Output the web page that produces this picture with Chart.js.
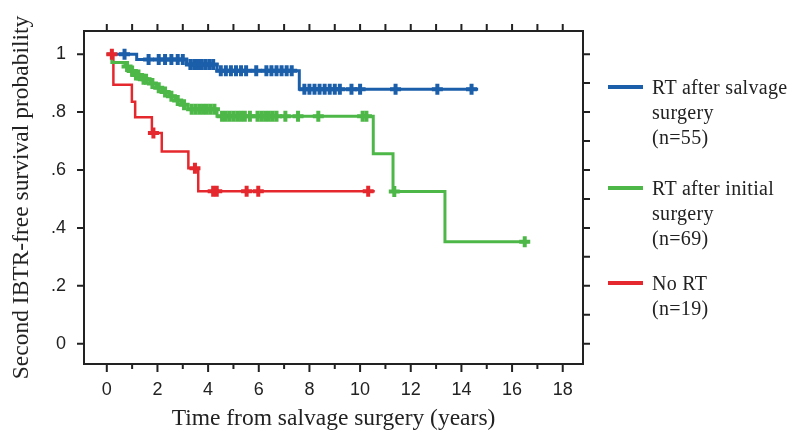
<!DOCTYPE html>
<html>
<head>
<meta charset="utf-8">
<script src="https://cdn.jsdelivr.net/npm/chart.js@4.4.1/dist/chart.umd.min.js"></script>
<style>
  html, body { margin: 0; padding: 0; background: #fff; }
  #wrap { position: relative; width: 792px; height: 434px; }
  .item { position: absolute; left: 608px; }
  .swatch { position: absolute; left: 0; top: -2px; width: 35px; height: 4px; }
  .label { position: absolute; left: 44px; top: -12.5px; font: 20px "Liberation Serif", "Times New Roman", serif;
           line-height: 25px; color: #222; white-space: nowrap; letter-spacing: 0.3px; }
</style>
</head>
<body>
<div id="wrap">
  <canvas id="km" width="792" height="434"></canvas>
</div>
<script>
// Kaplan-Meier step points: time (years) where survival drops to the given value
var salvageTimes = [0, 1.18, 3.15, 4.35, 7.6, 14.66];
var salvageSurv = [1, 0.982, 0.964, 0.943, 0.879, 0.879];
var salvageCensor = [0.7, 1.65, 2.05, 2.3, 2.55, 2.8, 3.0, 3.3, 3.45, 3.6, 3.75, 3.9, 4.05, 4.2,
  4.5, 4.7, 4.9, 5.1, 5.3, 5.5, 5.9, 6.3, 6.5, 6.7, 6.9, 7.1, 7.3, 7.8, 8.0, 8.2, 8.4, 8.6, 8.8,
  9.0, 9.2, 9.66, 10.0, 11.4, 13.05, 14.4];

var initialTimes = [0, 0.2, 0.72, 0.9, 1.05, 1.35, 1.7, 1.95, 2.2, 2.45, 2.7, 2.95, 3.2, 4.35,
  10.52, 11.3, 13.35, 16.65];
var initialSurv = [1, 0.971, 0.957, 0.942, 0.928, 0.913, 0.899, 0.884, 0.869, 0.855, 0.840,
  0.825, 0.810, 0.786, 0.656, 0.526, 0.352, 0.352];
var initialCensor = [0.8, 1.0, 1.15, 1.25, 1.45, 1.55, 1.8, 2.05, 2.3, 2.55, 2.8, 3.05, 3.35,
  3.5, 3.65, 3.8, 3.95, 4.1, 4.25, 4.55, 4.7, 4.85, 5.0, 5.15, 5.3, 5.45, 5.65, 5.95, 6.1, 6.25,
  6.4, 6.55, 6.7, 7.05, 7.55, 8.35, 10.1, 10.25, 11.35, 16.5];

var noRtTimes = [0, 0.26, 0.99, 1.12, 1.78, 2.17, 3.22, 3.61, 10.58];
var noRtSurv = [1, 0.894, 0.836, 0.782, 0.728, 0.664, 0.606, 0.527, 0.527];
var noRtCensor = [0.2, 1.84, 3.48, 4.2, 4.34, 5.52, 5.98, 10.32];

var xMajorTicks = [0, 2, 4, 6, 8, 10, 12, 14, 16, 18];
var xMinorTicks = [1, 3, 5, 7, 9, 11, 13, 15, 17];
var yMajorTicks = [0, 0.2, 0.4, 0.6, 0.8, 1];
var yMinorTicks = [0.1, 0.3, 0.5, 0.7, 0.9];
var yTickLabels = ['0', '.2', '.4', '.6', '.8', '1'];

var seriesNames = [
  ['RT after salvage', 'surgery', '(n=55)'],
  ['RT after initial', 'surgery', '(n=69)'],
  ['No RT', '(n=19)']
];
var seriesColors = ['#1b5ea9', '#4db848', '#e5282e'];

function steps(times, surv) {
  return times.map(function (t, i) { return { x: t, y: surv[i] }; });
}

function censorMarks(times, surv, censor) {
  return censor.map(function (c) {
    var s = surv[0];
    for (var i = 0; i < times.length; i++) {
      if (times[i] <= c) s = surv[i];
    }
    return { x: c, y: s };
  });
}

function lineSet(times, surv, color, width) {
  return {
    data: steps(times, surv), borderColor: color, borderWidth: width,
    stepped: true, pointRadius: 0, fill: false, order: 2
  };
}

function markSet(times, surv, censor, color) {
  return {
    data: censorMarks(times, surv, censor), showLine: false, pointStyle: 'cross',
    pointRadius: 5.5, pointBorderWidth: 4, pointBorderColor: color, borderColor: color, order: 1
  };
}

var frameTicks = {
  id: 'frameTicks',
  afterDatasetsDraw: function (chart) {
    var ctx = chart.ctx, a = chart.chartArea;
    var xs = chart.scales.x, ys = chart.scales.y;
    ctx.save();
    ctx.strokeStyle = '#222';
    ctx.lineWidth = 2;
    ctx.strokeRect(a.left, a.top, a.right - a.left, a.bottom - a.top);
    ctx.beginPath();
    xMajorTicks.forEach(function (v) {
      var p = xs.getPixelForValue(v);
      ctx.moveTo(p, a.bottom); ctx.lineTo(p, a.bottom + 8);
      ctx.moveTo(p, a.top); ctx.lineTo(p, a.top - 7);
    });
    xMinorTicks.forEach(function (v) {
      var p = xs.getPixelForValue(v);
      ctx.moveTo(p, a.bottom); ctx.lineTo(p, a.bottom + 5);
      ctx.moveTo(p, a.top); ctx.lineTo(p, a.top - 7);
    });
    yMajorTicks.forEach(function (v) {
      var p = ys.getPixelForValue(v);
      ctx.moveTo(a.left, p); ctx.lineTo(a.left - 7, p);
      ctx.moveTo(a.right, p); ctx.lineTo(a.right + 7, p);
    });
    yMinorTicks.forEach(function (v) {
      var p = ys.getPixelForValue(v);
      ctx.moveTo(a.right, p); ctx.lineTo(a.right + 7, p);
    });
    ctx.stroke();
    ctx.restore();
  }
};

var titleFont = { family: '"Liberation Serif", "Times New Roman", serif', size: 23.5 };
var tickFont = { family: '"Liberation Sans", Arial, sans-serif', size: 18 };

new Chart(document.getElementById('km'), {
  type: 'line',
  data: {
    datasets: [
      lineSet(salvageTimes, salvageSurv, seriesColors[0], 3),
      lineSet(initialTimes, initialSurv, seriesColors[1], 3),
      lineSet(noRtTimes, noRtSurv, seriesColors[2], 2.5),
      markSet(salvageTimes, salvageSurv, salvageCensor, seriesColors[0]),
      markSet(initialTimes, initialSurv, initialCensor, seriesColors[1]),
      markSet(noRtTimes, noRtSurv, noRtCensor, seriesColors[2])
    ]
  },
  options: {
    responsive: false,
    animation: false,
    clip: false,
    plugins: { legend: { display: false }, tooltip: { enabled: false } },
    layout: { padding: 0 },
    scales: {
      x: {
        type: 'linear', position: 'bottom', min: -0.9, max: 18.8,
        afterBuildTicks: function (s) { s.ticks = xMajorTicks.map(function (v) { return { value: v }; }); },
        afterFit: function (s) { s.height = 70; },
        ticks: { font: tickFont, color: '#222', padding: 15, maxRotation: 0 },
        grid: { display: false, drawTicks: false },
        border: { display: false },
        title: { display: true, text: 'Time from salvage surgery (years)', font: titleFont, color: '#222',
                 padding: { top: 0, bottom: 1 } }
      },
      xTop: {
        type: 'linear', position: 'top', min: -0.9, max: 18.8,
        afterFit: function (s) { s.height = 31; },
        ticks: { display: false },
        grid: { display: false, drawTicks: false },
        border: { display: false }
      },
      y: {
        type: 'linear', position: 'left', min: -0.07, max: 1.08,
        afterBuildTicks: function (s) { s.ticks = yMajorTicks.map(function (v) { return { value: v }; }); },
        afterFit: function (s) { s.width = 84; },
        ticks: {
          font: tickFont, color: '#222', padding: 18,
          callback: function (v, i) { return yTickLabels[i]; }
        },
        grid: { display: false, drawTicks: false },
        border: { display: false },
        title: { display: true, text: 'Second IBTR-free survival probability', font: titleFont, color: '#222',
                 padding: { top: 8, bottom: 0 } }
      },
      yRight: {
        type: 'linear', position: 'right', min: -0.07, max: 1.08,
        afterFit: function (s) { s.width = 209; },
        ticks: { display: false },
        grid: { display: false, drawTicks: false },
        border: { display: false }
      }
    }
  },
  plugins: [frameTicks]
});

// legend on the right, as HTML text
var legendCenters = [87, 188, 283];
var wrap = document.getElementById('wrap');
seriesNames.forEach(function (lines, i) {
  var item = document.createElement('div');
  item.className = 'item';
  item.style.top = legendCenters[i] + 'px';
  var sw = document.createElement('div');
  sw.className = 'swatch';
  sw.style.background = seriesColors[i];
  var lab = document.createElement('div');
  lab.className = 'label';
  lab.innerHTML = lines.join('<br>');
  item.appendChild(sw);
  item.appendChild(lab);
  wrap.appendChild(item);
});
</script>
</body>
</html>
